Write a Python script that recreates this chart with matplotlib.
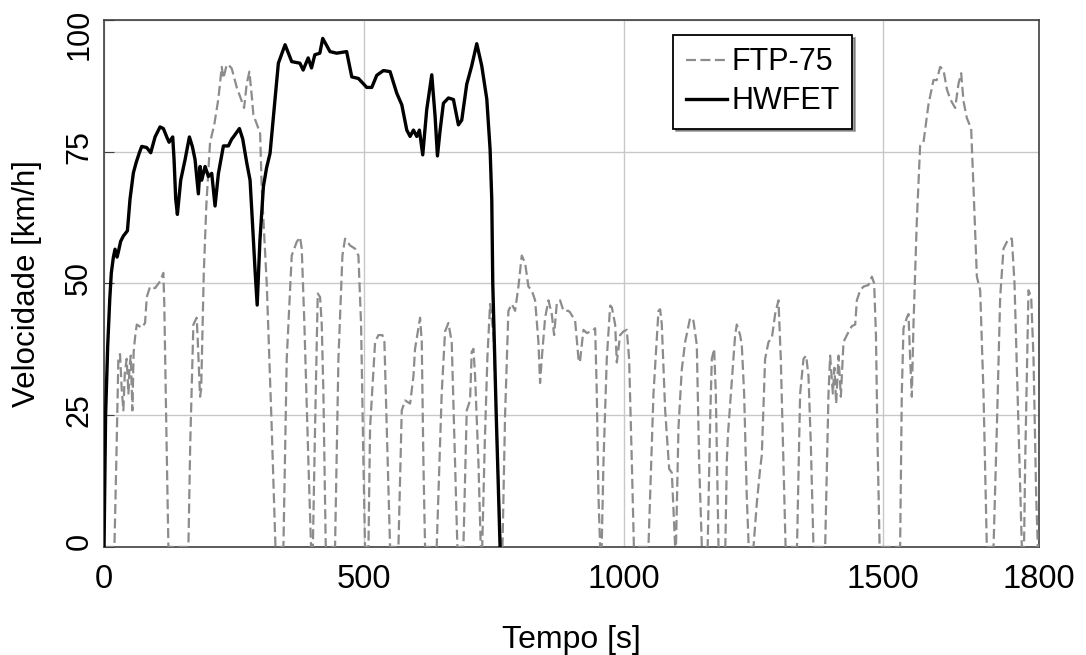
import matplotlib
matplotlib.use('Agg')
import matplotlib.pyplot as plt
import matplotlib.transforms as mtransforms

plt.rcParams['font.family'] = ['Liberation Sans', 'DejaVu Sans']

# HWFET cycle (time s, speed km/h)
hwfet_t = [0, 3, 7, 11, 14, 18, 21.2, 25, 27.6, 32, 37.2, 45, 50, 56.5, 62, 68, 72.5, 82, 89.9,
           98.2, 107.8, 114.2, 120.7, 125.2, 132.2, 134.8, 138, 141.2, 147.6, 156, 164.3, 170,
           175.2, 181.6, 184.9, 188, 194.5, 200.9, 207.3, 213.7, 220.2, 229.8, 239.4, 245.8, 249,
           260.6, 267, 274.7, 281.1, 286.3, 291, 294.8, 300, 306.8, 313, 319.6, 329, 335.6, 348.5,
           361.3, 377, 383.3, 393, 399.4, 405.8, 415.4, 421, 435, 447.8, 467, 476.9, 489.7, 505.8,
           515.4, 525, 537.8, 550.6, 563.5, 573.2, 582.8, 589.2, 595.6, 602, 607.1, 613.5, 621.2,
           630.9, 637.3, 641.8, 647, 653.3, 663, 672.6, 682.2, 688.6, 698.2, 707.8, 717.5, 727.1,
           736.8, 743.2, 746.4, 748.3, 755, 762.4]
hwfet_v = [0, 25, 38, 47, 52, 55, 56.5, 55, 56, 58, 59, 60, 66, 71, 73, 74.8, 76, 75.8, 74.8,
           77.8, 79.7, 79.4, 77.8, 76.8, 77.8, 73.5, 66, 63.1, 69.6, 73.5, 77.8, 76,
           73.5, 67, 72.2, 69.6, 72.2, 70.3, 70.9, 64.7, 70.9, 76.1, 76.1, 77.4, 77.8,
           79.4, 77.4, 72.9, 69.6, 60.5, 52, 45.9, 58, 68.4, 72, 74.7, 84.8, 91.8, 95.3,
           92.1, 91.8, 90.5, 92.8, 90.9, 93.4, 93.7, 96.5, 94, 93.7, 94, 89.2, 88.9, 87.2,
           87.2, 89.5, 90.4, 90.2, 86.1, 83.9, 79.1, 77.9, 79.1, 77.9, 79.1, 74.4, 83,
           89.6, 81.7, 74.2, 79.1, 84.2, 85.2, 84.9, 80.1, 81, 87.8, 91.3, 95.5, 91.3,
           85, 75.4, 65.9, 50.1, 25, 0]

# FTP-75 cycle (time s, speed km/h)
ftp_t = [0, 20, 24, 27.6, 30.8, 34, 37.2, 40, 43.6, 46.9, 49, 51.4, 54.6, 57, 60, 63, 72.5, 79,
         82.2, 88.6, 98.2, 107.8, 114.2, 116, 120, 123.9, 162.4, 166, 172, 178.4, 180.5, 184.9,
         187, 192, 197, 204.1, 212, 220, 226.6, 229.8, 236, 239.4, 245.8, 255.5, 265.1, 269.6,
         274.7, 279.8, 284, 287.5, 297.2, 300.3, 303.5, 313.2, 322.8, 330, 345.3, 351.7, 361.3,
         371, 377.3, 380.6, 385.7, 393.4, 398.5, 402, 406.2, 411.4, 415.9, 419.1, 422.3, 426.8,
         444.7, 451.2, 458.9, 464, 473.6, 483.3, 489.7, 494.8, 499.3, 502.5, 509, 512.1, 521.8,
         528.2, 535.9, 539.7, 544.2, 550.6, 566.7, 573.1, 579.5, 589.2, 595.6, 598.7, 608.4,
         611.6, 614.8, 618, 640.4, 650, 656.5, 662.9, 669.3, 675.7, 680.2, 691.8, 698.2, 704.6,
         707.8, 711.1, 714.3, 720.7, 725.2, 728, 733, 738, 743.1, 750, 758, 763, 767, 772,
         778.4, 784.9, 791.3, 797.7, 804.1, 810.5, 817, 823.4, 829.8, 836.2, 839.4, 842.6,
         849.1, 855.5, 861.9, 866.4, 871.5, 877.9, 884.4, 894, 897.2, 906.9, 913.3, 916, 922.9,
         929.3, 939, 945.4, 948.6, 951.8, 955, 958, 961.4, 967.8, 974.3, 977.5, 983.9, 987.1,
         993.5, 999.9, 1006.3, 1010.8, 1016, 1020, 1048, 1057.7, 1067.3, 1070.5, 1073.7,
         1080.2, 1087.9, 1093, 1099.4, 1101, 1105.8, 1112.2, 1118.7, 1128.3, 1134.7, 1141.1,
         1145.6, 1150.8, 1162, 1167, 1170, 1174.5, 1177.7, 1182.9, 1196, 1198.8, 1201, 1211.7,
         1214.9, 1218.1, 1224.5, 1227.7, 1232.2, 1237.3, 1241, 1250.2, 1256.6, 1263, 1266.2,
         1272.6, 1279.1, 1285.5, 1291.9, 1298.3, 1302.8, 1307.9, 1312, 1334, 1340, 1346.5,
         1351.6, 1356.1, 1360.6, 1365.7, 1388.2, 1394.6, 1397.8, 1403, 1406, 1409.4, 1413.9,
         1418.4, 1423.5, 1430, 1439.5, 1446, 1449.2, 1455.6, 1462, 1471.6, 1478.1, 1482.5, 1486,
         1489, 1493, 1532.5, 1535.7, 1539, 1545.4, 1548.6, 1551.8, 1555, 1558.2, 1564.6, 1571,
         1577.5, 1587.1, 1596.7, 1603.1, 1609.6, 1616, 1622.4, 1628.8, 1638.4, 1644.9, 1650,
         1654.5, 1660.9, 1669.2, 1673.7, 1680.2, 1686.6, 1693, 1699.4, 1712.3, 1718.7, 1725.1,
         1731.5, 1741.1, 1747.6, 1752.7, 1760.4, 1766.8, 1771, 1773.2, 1779.6, 1784.8, 1789.3,
         1794.4, 1797.6, 1800]
ftp_v = [0, 0, 18, 35.7, 36.6, 30, 25.9, 33, 35.7, 29.1, 34, 36.3, 25.9, 37, 40, 42.2, 41.6, 42.5,
         47.4, 49.4, 49.1, 50.4, 52, 46, 22, 0, 0, 20, 42.2, 43.5, 38.9, 28.5,
         30, 52, 65, 76.8, 80, 85, 91.1, 88.9, 91.5, 91.5, 90.8, 87.2, 84.6, 83.3,
         87.9, 90.2, 86, 82, 79.4, 79, 68.3, 50, 22.6, 0, 0, 35.7, 55.3,
         57.9, 58.8, 56.6, 42.2, 16.1, 0, 0, 22.6, 48.1, 47.4, 42.2, 29.1, 0,
         0, 35.7, 55.3, 58.5, 57.2, 56.6, 55.3, 42.2, 16.1, 0, 0, 22.6, 38.9,
         40.2, 40.2, 38.9, 22.6, 0, 0, 25.9, 27.8, 27.2, 32.4, 37.6, 43.5,
         38.9, 16.1, 0, 0, 29.1, 40.9, 42.5, 38.9, 16.1, 0, 0, 25.9, 27.8,
         37, 37.6, 32.4, 16.1, 0, 0, 20, 36, 46.1, 40, 15, 0, 0, 25,
         44.8, 46.1, 44.8, 49.4, 55.3, 53.9, 49.4, 48.7, 46.8, 38.9, 31.1, 35.7,
         43.5, 46.8, 44.2, 40.2, 46.1, 46.8, 44.8, 44.8, 44.5, 42.9, 35.7, 35, 41.2,
         40.6, 40.9, 41.5, 29.1, 9.6, 0, 0, 16, 35.7, 45.8, 45.5, 42.2, 35,
         40.2, 40.9, 41.2, 35.7, 16.1, 0, 0, 29.1, 44.8, 45.1, 42.2,
         25.9, 14.8, 14.1, 0, 0, 22.6, 33.7, 38.9, 43.5, 42.9, 38.3,
         16.1, 0, 0, 25, 35.7, 37.6, 29.1, 0, 0, 16.1, 21.3, 35.7,
         40.2, 42.2, 40.2, 38.3, 29.1, 9.6, 0, 0, 8.3, 14.8, 17.4,
         35.7, 38.9, 39.6, 44.2, 46.8, 35.7, 16.1, 0, 0, 29.1, 35.7,
         36.3, 32.4, 19.4, 0, 0, 29.1, 36.3, 29.1, 34, 27.2, 36.3,
         28.5, 38.9, 40.2, 41.9, 42.2, 46.8, 48.7, 49.4, 49.7, 51.3, 50, 40,
         20, 0, 0, 29.1, 41.5, 43.5, 44.2, 35.7, 28.5, 42.2, 61.8, 76.1,
         76.8, 84, 88.6, 88.6, 91.1, 90.5, 86.9, 85, 83.3, 87.9, 89.9,
         84.6, 81.4, 79.4, 68.3, 51.3, 48.7, 29.1, 0, 0, 22.6, 47.4,
         56.6, 58.5, 58.5, 50, 22.6, 0, 0, 16, 48.7, 47.4, 35.7,
         9.6, 0, 0]

x_ticks = [0, 500, 1000, 1500, 1800]
y_ticks = [0, 25, 50, 75, 100]

fig = plt.figure(figsize=(10.86, 6.55), dpi=100)
ax = fig.add_axes([0.0958, 0.165, 0.861, 0.8045])

ax.plot(ftp_t, ftp_v, color='#8c8c8c', lw=1.6, ls=(0, (4.5, 2)), label='FTP-75', zorder=3)
ax.plot(hwfet_t, hwfet_v, color='black', lw=2.4, label='HWFET', zorder=4)

ax.set_xlim(0, 1800)
ax.set_ylim(0, 100)
ax.set_xticks(x_ticks)
ax.set_yticks(y_ticks)
ax.grid(True, color='#c8c8c8', lw=1)
ax.set_axisbelow(True)
for s in ax.spines.values():
    s.set_color('#404040')
    s.set_linewidth(1.2)

ax.tick_params(axis='x', length=0, pad=12, labelsize=23.5)
ax.tick_params(axis='y', direction='in', length=7, color='#404040', pad=7, labelsize=22)
for lab in ax.get_yticklabels():
    lab.set_rotation(90)
    lab.set_va('center')
    lab.set_ha('right')

# nudge y labels as in the original (slightly above their tick, top one kept inside)
for i, lab in enumerate(ax.get_yticklabels()):
    dy = -14 if i == len(y_ticks) - 1 else 5
    lab.set_transform(lab.get_transform() + mtransforms.ScaledTranslation(0, dy / 100, fig.dpi_scale_trans))

ax.set_xlabel('Tempo [s]', fontsize=23, labelpad=22)
ax.set_ylabel('Velocidade [km/h]', fontsize=22.5, labelpad=16)

leg = ax.legend(loc='upper right', bbox_to_anchor=(0.8, 0.9715), borderaxespad=0,
                fontsize=22, frameon=True, fancybox=False, shadow=True,
                handlelength=1.35, handletextpad=0.15, labelspacing=0.3, borderpad=0.4)
leg.get_frame().set_edgecolor('black')
leg.get_frame().set_linewidth(1.3)

fig.savefig('out.png', dpi=100, facecolor='white')
